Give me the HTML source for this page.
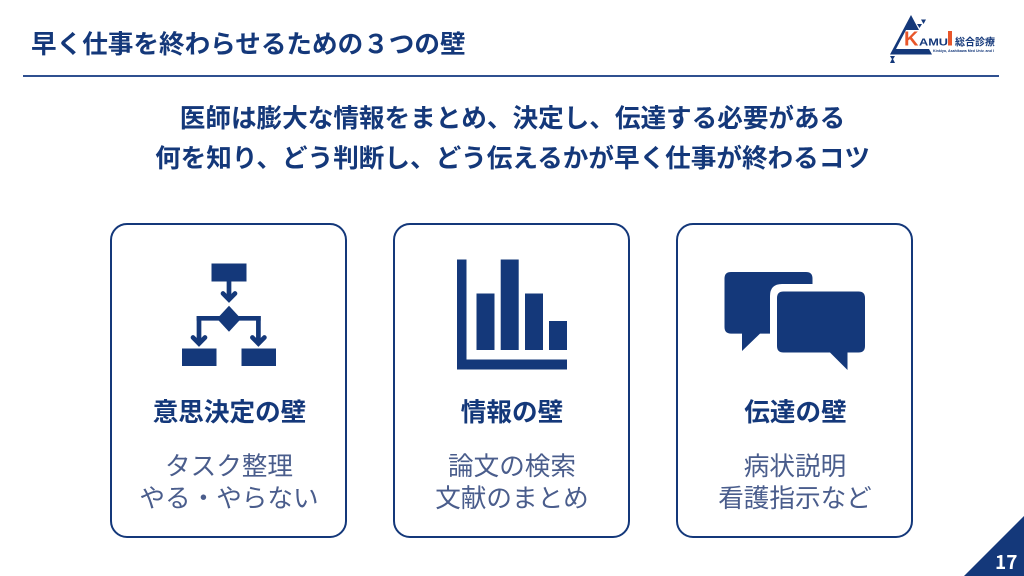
<!DOCTYPE html>
<html lang="ja"><head><meta charset="utf-8"><style>
html,body{margin:0;padding:0;background:#fff}
#p{position:relative;width:1024px;height:576px;overflow:hidden;background:#fff;font-family:"Noto Sans CJK JP",sans-serif;color:#14387a}
.t{position:absolute;white-space:nowrap;font-size:25.6px;line-height:32px;letter-spacing:0}
.b{font-weight:700}
.c{text-align:center}
.card{position:absolute;top:222.500px;width:233px;height:311px;border:2px solid #14387a;border-radius:17px}
.g{color:#4a5d8c}
svg{position:absolute;left:0;top:0}
</style></head><body><div id="p">
<div class="t b" style="left:31px;top:27px;">早く仕事を終わらせるための３つの壁</div>
<div style="position:absolute;left:23px;top:75px;width:976px;height:2px;background:#2f5090"></div>
<div class="t b c" style="left:0.500px;width:1024px;top:101px">医師は膨大な情報をまとめ、決定し、伝達する必要がある</div>
<div class="t b c" style="left:0.500px;width:1024px;top:141px">何を知り、どう判断し、どう伝えるかが早く仕事が終わるコツ</div>
<div class="card" style="left:110px"></div>
<div class="card" style="left:393px"></div>
<div class="card" style="left:676px"></div>
<svg width="1024" height="576" viewBox="0 0 1024 576">
<g fill="#14387a">
<rect x="211.500" y="263.500" width="35" height="18"/>
<rect x="182" y="348.500" width="34.500" height="17.500"/>
<rect x="241.500" y="348.500" width="34.500" height="17.500"/>
<polygon points="229,305.700 241,318.700 229,331.700 217,318.700"/>
</g>
<g fill="none" stroke="#14387a" stroke-width="4.700">
<path d="M196.700 318.300H260.700"/>
<path d="M229 281V300"/>
<path d="M223 293.500L229 299.500L235 293.500" stroke-linecap="round"/>
<path d="M199 316V343"/>
<path d="M193 337.500L199 343.500L205 337.500" stroke-linecap="round"/>
<path d="M258.400 316V343"/>
<path d="M252.400 337.500L258.400 343.500L264.400 337.500" stroke-linecap="round"/>
</g>
<g fill="#14387a">
<path d="M457 259.500H466.500V359.500H567V369.500H457Z"/>
<rect x="476.500" y="293.500" width="18" height="56.500"/>
<rect x="500.700" y="259.500" width="18" height="90.500"/>
<rect x="525" y="293.500" width="18" height="56.500"/>
<rect x="549" y="321" width="18" height="29"/>
<path d="M731 272H806Q812.500 272 812.500 278.500V284H782Q770 284 770 296V333.600H760L742 351V333.600H731Q724.500 333.600 724.500 327V278.500Q724.500 272 731 272Z"/>
<path d="M783.500 291.500H858.500Q865 291.500 865 298V346Q865 352.500 858.500 352.500H847.500V370L830 352.500H783.500Q777 352.500 777 346V298Q777 291.500 783.500 291.500Z"/>
<polygon points="964,576 1024,516 1024,576"/>
</g>
<g>
<path d="M911 15L919 30L906 30L896 49H929L932 54.500H890Z" fill="#14387a"/>
<polygon points="917,24 922,24 919.500,28" fill="#14387a"/>
<polygon points="921,19.500 926,19.500 923.500,24" fill="#14387a"/>
<polygon points="890,56 895,56 892.500,60" fill="#14387a"/>
<polygon points="892.500,58 895,63 890,63" fill="#14387a"/>
<text x="904" y="45.500" font-family="Liberation Sans" font-weight="700" font-size="20" fill="#e8562a">K</text>
<text x="919" y="45.500" font-family="Liberation Sans" font-weight="700" font-size="10.500" fill="#14387a" textLength="29" lengthAdjust="spacingAndGlyphs">AMU</text>
<rect x="948" y="31" width="4" height="14.500" fill="#e8562a"/>
<text x="955" y="45.500" font-family="Noto Sans CJK JP" font-weight="700" font-size="10" fill="#14387a">総合診療</text>
<text x="933" y="52" font-family="Liberation Sans" font-weight="700" font-size="4" fill="#14387a" textLength="61" lengthAdjust="spacingAndGlyphs">Kinkiyo, Asahikawa Med Univ. and I</text>
</g>
</svg>
<div class="t b c" style="left:111px;width:237px;top:395px">意思決定の壁</div>
<div class="t b c" style="left:393.500px;width:237px;top:395px">情報の壁</div>
<div class="t b c" style="left:677px;width:237px;top:395px">伝達の壁</div>
<div class="t c g" style="left:110.500px;width:237px;top:448.500px">タスク整理</div>
<div class="t c g" style="left:110.500px;width:237px;top:480.500px">やる・やらない</div>
<div class="t c g" style="left:393.500px;width:237px;top:448.500px">論文の検索</div>
<div class="t c g" style="left:393.500px;width:237px;top:480.500px">文献のまとめ</div>
<div class="t c g" style="left:676.500px;width:237px;top:448.500px">病状説明</div>
<div class="t c g" style="left:676.500px;width:237px;top:480.500px">看護指示など</div>
<div class="t b" style="left:995px;top:547px;font-size:19px;letter-spacing:0;line-height:30px;color:#fff">17</div>
</div></body></html>
